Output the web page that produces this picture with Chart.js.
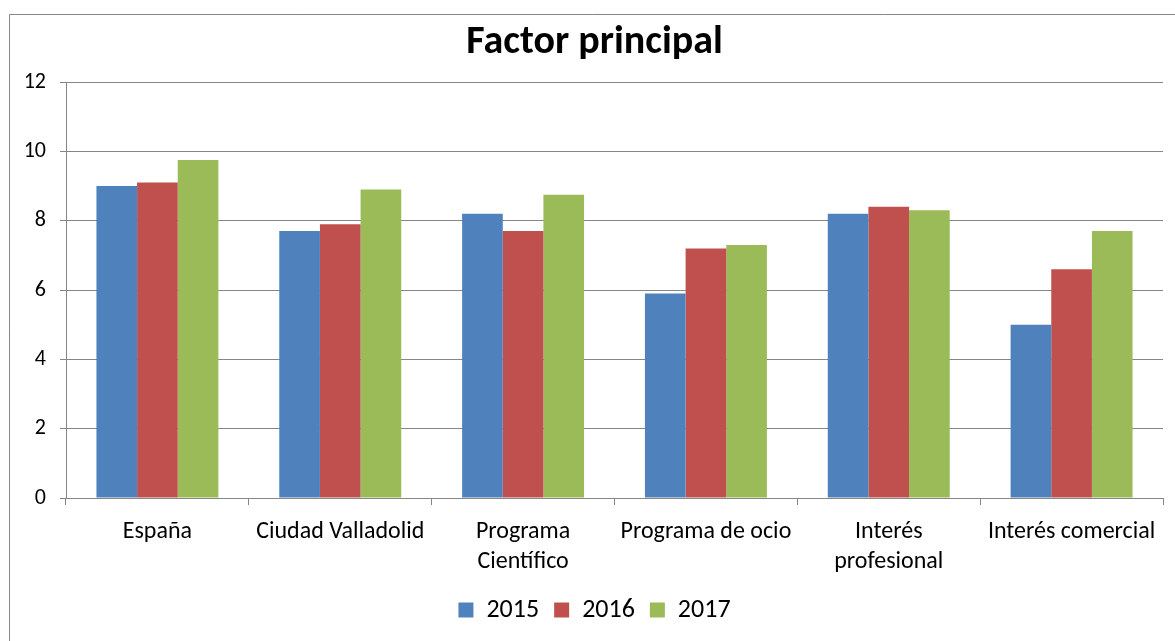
<!DOCTYPE html>
<html>
<head>
<meta charset="utf-8">
<script src="https://cdn.jsdelivr.net/npm/chart.js@4/dist/chart.umd.min.js"></script>
<style>
  html, body { margin: 0; padding: 0; background: #fff; }
  #wrap { width: 1175px; height: 641px; position: relative; }
</style>
</head>
<body>
<div id="wrap"><canvas id="c" width="1175" height="641"></canvas></div>
<script>
const categories = ["España", "Ciudad Valladolid", ["Programa", "Científico"], "Programa de ocio", ["Interés", "profesional"], "Interés comercial"];
const seriesNames = ["2015", "2016", "2017"];
const values2015 = [9.0, 7.7, 8.2, 5.9, 8.2, 5.0];
const values2016 = [9.1, 7.9, 7.7, 7.2, 8.4, 6.6];
const values2017 = [9.75, 8.9, 8.75, 7.3, 8.3, 7.7];
const yTicks = [0, 2, 4, 6, 8, 10, 12];

const colors = ["#4F81BD", "#C0504D", "#9BBB59"];
const FONT = 'Carlito, "Liberation Sans", Arial, sans-serif';
const PAD_LEFT = 26;

const frame = {
  id: 'frame',
  beforeDraw(chart) {
    const ctx = chart.ctx;
    ctx.save();
    ctx.fillStyle = '#ffffff';
    ctx.fillRect(0, 0, chart.width, chart.height);
    ctx.strokeStyle = '#868686';
    ctx.lineWidth = 1;
    ctx.beginPath();
    ctx.moveTo(9.5, chart.height + 5);
    ctx.lineTo(9.5, 14.5);
    ctx.lineTo(chart.width + 5, 14.5);
    ctx.stroke();
    ctx.restore();
  }
};

new Chart(document.getElementById('c'), {
  type: 'bar',
  data: {
    labels: categories,
    datasets: [
      { label: seriesNames[0], data: values2015, backgroundColor: colors[0] },
      { label: seriesNames[1], data: values2016, backgroundColor: colors[1] },
      { label: seriesNames[2], data: values2017, backgroundColor: colors[2] }
    ]
  },
  options: {
    responsive: false,
    animation: false,
    devicePixelRatio: 1,
    datasets: { bar: { categoryPercentage: 0.667, barPercentage: 1.0, borderWidth: 0 } },
    layout: { padding: { left: PAD_LEFT, right: 12, top: 0, bottom: 8 } },
    plugins: {
      title: {
        display: true,
        text: 'Factor principal',
        color: '#000',
        font: { family: FONT, size: 40, weight: 'bold', lineHeight: 1.2 },
        padding: { top: 19, bottom: 15 }
      },
      legend: {
        position: 'bottom',
        labels: {
          color: '#000',
          font: { family: FONT, size: 26 },
          boxWidth: 15,
          boxHeight: 15,
          padding: 15
        }
      },
      tooltip: { enabled: false }
    },
    scales: {
      x: {
        afterFit(scale) { scale.height = 84; },
        grid: { display: true, drawOnChartArea: false, drawTicks: true, tickLength: 7, color: '#868686', offset: true },
        border: { display: true, color: '#868686', width: 1 },
        ticks: { color: '#000', font: { family: FONT, size: 24, lineHeight: 1.25 }, padding: 12, maxRotation: 0, autoSkip: false }
      },
      y: {
        min: 0,
        max: 12,
        afterFit(scale) { scale.width = 66 - PAD_LEFT; },
        afterBuildTicks(scale) { scale.ticks = yTicks.map(v => ({ value: v })); },
        grid: { color: '#868686', tickLength: 6, drawTicks: true },
        border: { display: true, color: '#868686', width: 1 },
        ticks: { color: '#000', font: { family: FONT, size: 22 }, padding: 14 }
      }
    }
  },
  plugins: [frame]
});
</script>
</body>
</html>
